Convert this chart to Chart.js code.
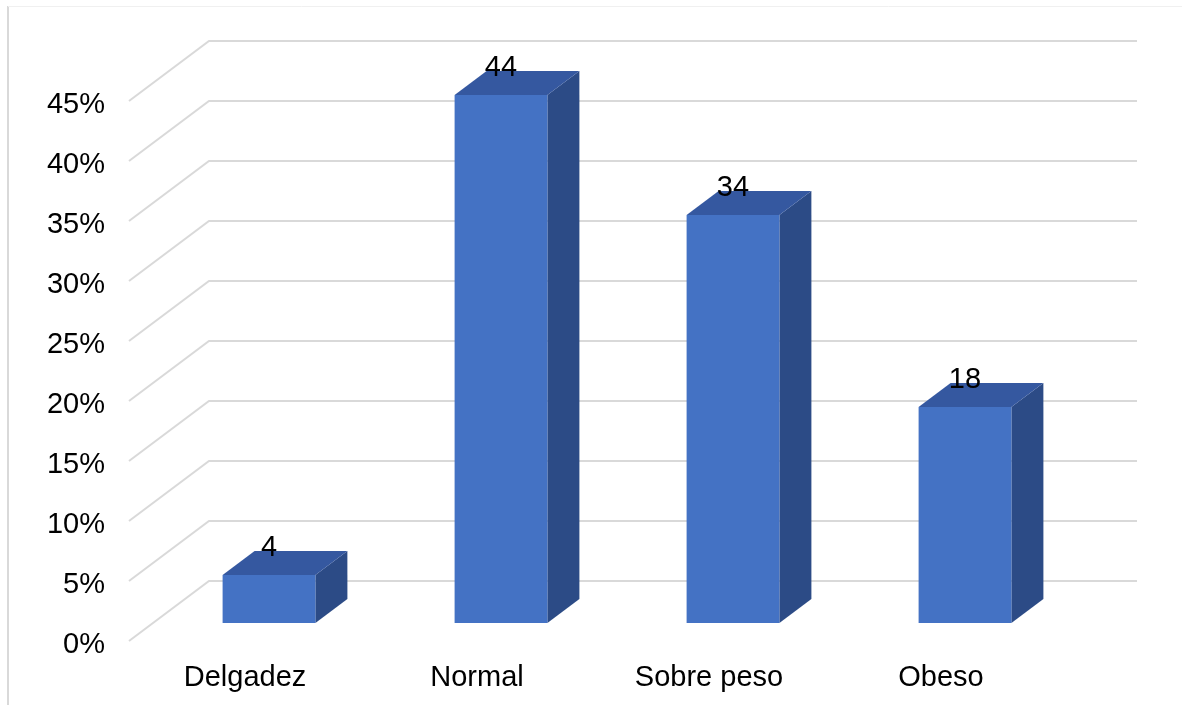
<!DOCTYPE html>
<html>
<head>
<meta charset="utf-8">
<script src="https://cdn.jsdelivr.net/npm/chart.js@4/dist/chart.umd.min.js"></script>
<style>
  html, body { margin: 0; padding: 0; background: #fff; }
  canvas { display: block; }
</style>
</head>
<body>
<canvas id="c" width="1182" height="705"></canvas>
<script>
// Categories and percentages
const categories = ['Delgadez', 'Normal', 'Sobre peso', 'Obeso'];
const percentages = [4, 44, 34, 18];
const axisMin = 0;
const axisMax = 45;
const axisStep = 5;

// Oblique projection of the 3D box: full depth of the walls and where bars sit inside it
const DEPTH_X = 80;
const DEPTH_Y = 60;
const BAR_NEAR = 0.3;
const BAR_FAR = 0.7;

const COLORS = {
  front: '#4472C4',
  top: '#3558A0',
  side: '#2C4B86',
  grid: '#d9d9d9',
  text: '#000000'
};
const FONT = { family: '"Liberation Sans", Arial, sans-serif', size: 29 };

const box3d = {
  id: 'box3d',
  beforeDraw(chart) {
    const ctx = chart.ctx;
    ctx.save();
    ctx.fillStyle = '#ffffff';
    ctx.fillRect(0, 0, chart.width, chart.height);
    // outer frame
    ctx.strokeStyle = '#d9d9d9';
    ctx.lineWidth = 2;
    ctx.beginPath();
    ctx.moveTo(8, 6);
    ctx.lineTo(8, chart.height);
    ctx.stroke();
    ctx.strokeStyle = '#f0f0f0';
    ctx.lineWidth = 1;
    ctx.beginPath();
    ctx.moveTo(8, 6.5);
    ctx.lineTo(chart.width, 6.5);
    ctx.stroke();
    ctx.restore();
  },
  beforeDatasetsDraw(chart) {
    // side wall diagonals and back wall gridlines
    const ctx = chart.ctx;
    const ys = chart.scales.y;
    const { left, right } = chart.chartArea;
    ctx.save();
    ctx.strokeStyle = COLORS.grid;
    ctx.lineWidth = 2;
    ys.ticks.forEach(t => {
      const y = ys.getPixelForValue(t.value);
      ctx.beginPath();
      ctx.moveTo(left, y);
      ctx.lineTo(left + DEPTH_X, y - DEPTH_Y);
      ctx.lineTo(right + DEPTH_X, y - DEPTH_Y);
      ctx.stroke();
    });
    ctx.restore();
  },
  afterDatasetsDraw(chart) {
    const ctx = chart.ctx;
    const meta = chart.getDatasetMeta(0);
    const offX = DEPTH_X * BAR_NEAR, offY = DEPTH_Y * BAR_NEAR;
    const dx = DEPTH_X * (BAR_FAR - BAR_NEAR), dy = DEPTH_Y * (BAR_FAR - BAR_NEAR);
    ctx.save();
    meta.data.forEach((el, i) => {
      const half = el.width / 2;
      const x0 = el.x - half + offX, x1 = el.x + half + offX;
      const yt = el.y - offY, yb = el.base - offY;
      // side face
      ctx.fillStyle = COLORS.side;
      ctx.beginPath();
      ctx.moveTo(x1, yt);
      ctx.lineTo(x1 + dx, yt - dy);
      ctx.lineTo(x1 + dx, yb - dy);
      ctx.lineTo(x1, yb);
      ctx.closePath();
      ctx.fill();
      // top face
      ctx.fillStyle = COLORS.top;
      ctx.beginPath();
      ctx.moveTo(x0, yt);
      ctx.lineTo(x0 + dx, yt - dy);
      ctx.lineTo(x1 + dx, yt - dy);
      ctx.lineTo(x1, yt);
      ctx.closePath();
      ctx.fill();
      // front face
      ctx.fillStyle = COLORS.front;
      ctx.fillRect(x0, yt, x1 - x0, yb - yt);
      // value label
      ctx.fillStyle = COLORS.text;
      ctx.font = FONT.size + 'px ' + FONT.family;
      ctx.textAlign = 'center';
      ctx.textBaseline = 'middle';
      ctx.fillText(String(percentages[i]), el.x + offX, yt - dy - 3);
    });
    ctx.restore();
  }
};

new Chart(document.getElementById('c'), {
  type: 'bar',
  data: {
    labels: categories,
    datasets: [{
      data: percentages,
      backgroundColor: 'rgba(0,0,0,0)',
      borderWidth: 0,
      categoryPercentage: 1,
      barPercentage: 0.4
    }]
  },
  options: {
    responsive: false,
    animation: false,
    events: [],
    layout: { padding: { top: 101, right: 125, left: 0, bottom: 0 } },
    plugins: { legend: { display: false }, tooltip: { enabled: false } },
    scales: {
      x: {
        grid: { display: false },
        border: { display: false },
        ticks: { font: FONT, color: COLORS.text, padding: 12, maxRotation: 0 },
        afterFit(s) { s.height = 64; }
      },
      y: {
        min: axisMin,
        max: axisMax,
        grid: { display: false },
        border: { display: false },
        ticks: {
          stepSize: axisStep,
          font: FONT,
          color: COLORS.text,
          padding: 16,
          labelOffset: 4,
          callback: v => v + '%'
        },
        afterFit(s) { s.width = 129; }
      }
    }
  },
  plugins: [box3d]
});
</script>
</body>
</html>
